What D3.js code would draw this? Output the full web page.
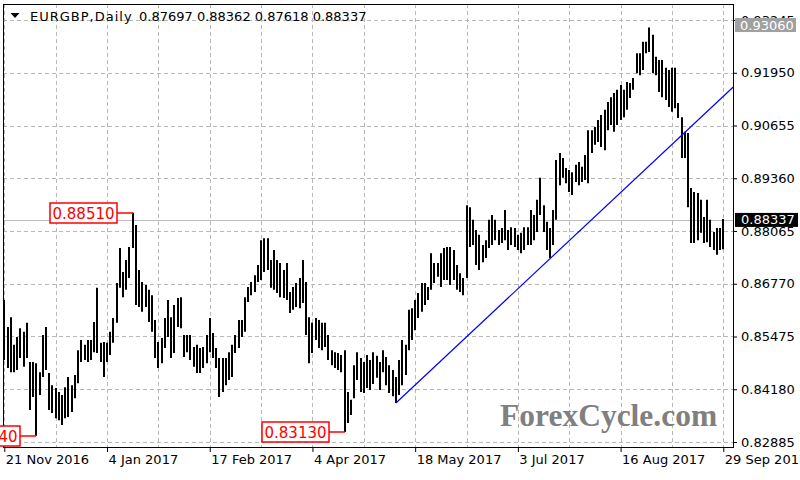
<!DOCTYPE html>
<meta charset="utf-8">
<title>EURGBP Daily</title>
<script src="https://d3js.org/d3.v7.min.js"></script>
<style>
  body { margin: 0; background: #fff; }
  text { font-family: "DejaVu Sans", sans-serif; }
</style>
<body>
<div id="chart"></div>
<script>
// daily highs and lows, one per trading day from 21 Nov 2016 to 29 Sep 2017
var highs = [
  0.8637,0.8571,0.8595,0.8527,0.8546,0.8568,0.8559,0.8581,0.8485,0.8485,
  0.8482,0.8460,0.8551,0.8571,0.8458,0.8428,0.8421,0.8411,0.8404,0.8423,
  0.8448,0.8428,0.8453,0.8514,0.8539,0.8527,0.8539,0.8539,0.8583,0.8667,
  0.8532,0.8534,0.8532,0.8559,0.8593,0.8679,0.8765,0.8706,0.8735,0.8767,
  0.8851,0.8821,0.8711,0.8681,0.8674,0.8662,0.8649,0.8588,0.8534,0.8544,
  0.8593,0.8637,0.8595,0.8625,0.8642,0.8644,0.8551,0.8551,0.8551,0.8522,
  0.8527,0.8519,0.8522,0.8551,0.8593,0.8556,0.8519,0.8495,0.8495,0.8495,
  0.8509,0.8527,0.8551,0.8588,0.8588,0.8644,0.8669,0.8681,0.8698,0.8723,
  0.8784,0.8789,0.8789,0.8735,0.8760,0.8735,0.8728,0.8711,0.8728,0.8657,
  0.8669,0.8679,0.8691,0.8735,0.8681,0.8595,0.8581,0.8593,0.8588,0.8581,
  0.8581,0.8551,0.8514,0.8509,0.8507,0.8502,0.8514,0.8411,0.8392,0.8477,
  0.8509,0.8495,0.8485,0.8502,0.8490,0.8509,0.8500,0.8485,0.8514,0.8497,
  0.8477,0.8465,0.8448,0.8490,0.8539,0.8527,0.8613,0.8617,0.8637,0.8654,
  0.8679,0.8679,0.8669,0.8752,0.8728,0.8728,0.8752,0.8765,0.8767,0.8767,
  0.8760,0.8723,0.8703,0.8691,0.8870,0.8865,0.8834,0.8809,0.8797,0.8772,
  0.8784,0.8834,0.8846,0.8834,0.8809,0.8814,0.8858,0.8809,0.8816,0.8814,
  0.8797,0.8802,0.8816,0.8816,0.8858,0.8846,0.8883,0.8937,0.8870,0.8829,
  0.8814,0.8858,0.8981,0.8998,0.8986,0.8961,0.8956,0.8951,0.8969,0.8976,
  0.8964,0.8993,0.9054,0.9054,0.9062,0.9079,0.9091,0.9104,0.9123,0.9135,
  0.9145,0.9153,0.9165,0.9153,0.9172,0.9170,0.9182,0.9243,0.9243,0.9271,
  0.9271,0.9306,0.9288,0.9234,0.9226,0.9226,0.9207,0.9202,0.9207,0.9207,
  0.9121,0.9086,0.9050,0.9047,0.8912,0.8902,0.8900,0.8883,0.8841,0.8883,
  0.8834,0.8804,0.8814,0.8814,0.88362
];
var lows = [
  0.8490,0.8470,0.8460,0.8460,0.8465,0.8495,0.8473,0.8495,0.8367,0.8399,
  0.8304,0.8404,0.8448,0.8465,0.8367,0.8360,0.8347,0.8342,0.8330,0.8347,
  0.8350,0.8362,0.8396,0.8433,0.8485,0.8490,0.8485,0.8490,0.8509,0.8507,
  0.8485,0.8448,0.8485,0.8502,0.8532,0.8581,0.8667,0.8644,0.8662,0.8691,
  0.8765,0.8625,0.8620,0.8608,0.8620,0.8583,0.8559,0.8495,0.8470,0.8482,
  0.8519,0.8546,0.8495,0.8507,0.8571,0.8568,0.8497,0.8509,0.8490,0.8473,
  0.8458,0.8458,0.8470,0.8482,0.8509,0.8495,0.8470,0.8399,0.8411,0.8428,
  0.8441,0.8448,0.8507,0.8519,0.8546,0.8559,0.8632,0.8649,0.8657,0.8681,
  0.8686,0.8706,0.8711,0.8667,0.8662,0.8654,0.8644,0.8642,0.8637,0.8605,
  0.8613,0.8620,0.8617,0.8630,0.8551,0.8482,0.8507,0.8539,0.8519,0.8514,
  0.8522,0.8490,0.8477,0.8470,0.8465,0.8460,0.8313,0.8335,0.8355,0.8396,
  0.8441,0.8411,0.8409,0.8421,0.8416,0.8431,0.8446,0.8416,0.8460,0.8428,
  0.8409,0.8401,0.8384,0.8404,0.8428,0.8453,0.8514,0.8539,0.8563,0.8593,
  0.8608,0.8625,0.8637,0.8662,0.8679,0.8694,0.8669,0.8686,0.8686,0.8674,
  0.8686,0.8662,0.8657,0.8649,0.8691,0.8767,0.8772,0.8723,0.8711,0.8730,
  0.8740,0.8765,0.8772,0.8784,0.8772,0.8777,0.8784,0.8760,0.8772,0.8767,
  0.8760,0.8752,0.8760,0.8772,0.8772,0.8784,0.8804,0.8846,0.8804,0.8760,
  0.8740,0.8772,0.8834,0.8919,0.8937,0.8924,0.8902,0.8895,0.8927,0.8919,
  0.8927,0.8932,0.8924,0.8998,0.9018,0.9025,0.9013,0.9005,0.9054,0.9067,
  0.9050,0.9067,0.9079,0.9086,0.9104,0.9133,0.9153,0.9194,0.9189,0.9202,
  0.9243,0.9246,0.9194,0.9189,0.9148,0.9135,0.9128,0.9111,0.9099,0.9108,
  0.9084,0.8986,0.8986,0.8865,0.8777,0.8777,0.8784,0.8802,0.8777,0.8779,
  0.8767,0.8760,0.8748,0.8760,0.87618
];

var dateLabels = ["21 Nov 2016", "4 Jan 2017", "17 Feb 2017", "4 Apr 2017",
                  "18 May 2017", "3 Jul 2017", "16 Aug 2017", "29 Sep 2017"];
var barsPerLabel = 32;
var priceTicks = [0.82885, 0.84180, 0.85475, 0.86770, 0.88065, 0.89360, 0.90655, 0.91950, 0.93245];
var lastBar = { open: 0.87697, high: 0.88362, low: 0.87618, close: 0.88337 };
var periodHigh = 0.93060;
// price labels drawn on the chart (bar index, price)
var markedPrices = [
  { bar: 10, price: 0.83040 },
  { bar: 40, price: 0.88510 },
  { bar: 106, price: 0.83130 }
];
// trend line through two lows
var trendAnchors = [{ bar: 122, price: 0.83843 }, { bar: 170, price: 0.87385 }];

var width = 800, height = 480;
var plot = { left: 3, top: 4, right: 733, bottom: 447 };

var svg = d3.select("#chart").append("svg")
  .attr("width", width)
  .attr("height", height)
  .style("display", "block");

svg.append("rect").attr("width", width).attr("height", height).attr("fill", "#fff");

var x = d3.scaleLinear().domain([0, highs.length - 1]).range([4.3, 723.3]);
var y = d3.scaleLinear()
  .domain([priceTicks[0], priceTicks[priceTicks.length - 1]])
  .range([442, 20]);

// grid
var grid = svg.append("g").attr("stroke", "#b8b8b8").attr("stroke-dasharray", "4,3");
grid.selectAll("line.v")
  .data(d3.range(0, highs.length, barsPerLabel / 2))
  .enter().append("line")
  .attr("x1", function(d) { return Math.round(x(d)) + 0.5; })
  .attr("x2", function(d) { return Math.round(x(d)) + 0.5; })
  .attr("y1", plot.top)
  .attr("y2", plot.bottom);
grid.selectAll("line.h")
  .data(priceTicks)
  .enter().append("line")
  .attr("x1", plot.left)
  .attr("x2", plot.right)
  .attr("y1", function(d) { return Math.round(y(d)) + 0.5; })
  .attr("y2", function(d) { return Math.round(y(d)) + 0.5; });

// current price line
svg.append("line")
  .attr("x1", plot.left).attr("x2", plot.right)
  .attr("y1", Math.round(y(lastBar.close)) + 0.5)
  .attr("y2", Math.round(y(lastBar.close)) + 0.5)
  .attr("stroke", "#c0c0c0");

// frame
svg.append("rect")
  .attr("x", plot.left + 0.5).attr("y", plot.top + 0.5)
  .attr("width", plot.right - plot.left).attr("height", plot.bottom - plot.top)
  .attr("fill", "none").attr("stroke", "#000");

// watermark
svg.append("text")
  .attr("x", 500).attr("y", 426)
  .style("font-family", "'Liberation Serif', serif")
  .style("font-weight", "bold")
  .style("font-size", "31.5px")
  .attr("fill", "#808080")
  .text("ForexCycle.com");

// bars
svg.append("g").selectAll("line")
  .data(highs)
  .enter().append("line")
  .attr("x1", function(d, i) { return Math.round(x(i)); })
  .attr("x2", function(d, i) { return Math.round(x(i)); })
  .attr("y1", function(d) { return y(d); })
  .attr("y2", function(d, i) { return y(lows[i]); })
  .attr("stroke", "#000")
  .attr("stroke-width", 2);

// trend line, extended to the right edge
var slope = (trendAnchors[1].price - trendAnchors[0].price) / (trendAnchors[1].bar - trendAnchors[0].bar);
var endBar = x.invert(plot.right);
svg.append("line")
  .attr("x1", x(trendAnchors[0].bar))
  .attr("y1", y(trendAnchors[0].price))
  .attr("x2", x(endBar))
  .attr("y2", y(trendAnchors[0].price + slope * (endBar - trendAnchors[0].bar)))
  .attr("stroke", "#0000ff")
  .attr("stroke-width", 1.2);

// marked prices
var marks = svg.append("g");
markedPrices.forEach(function(m) {
  var bx = Math.round(x(m.bar)), by = Math.round(y(m.price));
  marks.append("line")
    .attr("x1", bx - 16).attr("x2", bx)
    .attr("y1", by).attr("y2", by)
    .attr("stroke", "#ff0000").attr("stroke-width", 1.5);
  marks.append("rect")
    .attr("x", bx - 16 - 67).attr("y", by - 10)
    .attr("width", 67).attr("height", 20)
    .attr("fill", "#fff").attr("stroke", "#ff0000").attr("stroke-width", 1.5);
  marks.append("text")
    .attr("x", bx - 16 - 33.5).attr("y", by + 5.5)
    .attr("text-anchor", "middle")
    .style("font-size", "15px")
    .attr("fill", "#ff0000")
    .text(d3.format(".5f")(m.price));
});

// price axis
svg.append("g")
  .attr("transform", "translate(" + plot.right + ",0)")
  .call(d3.axisRight(y).tickValues(priceTicks).tickFormat(d3.format(".5f")).tickSize(4).tickPadding(4))
  .attr("font-size", 13)
  .attr("font-family", "DejaVu Sans")
  .call(function(g) { g.select(".domain").remove(); })
  .call(function(g) { g.selectAll("text").attr("fill", "#000"); });

// high label
svg.append("rect")
  .attr("x", 735).attr("y", y(periodHigh) - 9.5)
  .attr("width", 61).attr("height", 14)
  .attr("fill", "#a0a0a0");
svg.append("text")
  .attr("x", 740).attr("y", y(periodHigh) + 2)
  .style("font-size", "13px")
  .attr("fill", "#fff")
  .text(d3.format(".5f")(periodHigh));

// current price label
svg.append("rect")
  .attr("x", 735).attr("y", y(lastBar.close) - 7)
  .attr("width", 63).attr("height", 14)
  .attr("fill", "#000");
svg.append("text")
  .attr("x", 741).attr("y", y(lastBar.close) + 4.5)
  .style("font-size", "13px")
  .attr("fill", "#fff")
  .text(d3.format(".5f")(lastBar.close));

// date axis
var labelBars = dateLabels.map(function(d, i) { return i * barsPerLabel; });
svg.append("g")
  .attr("transform", "translate(0," + plot.bottom + ")")
  .call(d3.axisBottom(x).tickValues(labelBars)
    .tickFormat(function(d, i) { return dateLabels[i]; })
    .tickSize(5).tickPadding(3))
  .attr("font-size", 13)
  .attr("font-family", "DejaVu Sans")
  .call(function(g) { g.select(".domain").remove(); })
  .call(function(g) {
    g.selectAll("text").attr("text-anchor", "start").attr("dx", 1).attr("fill", "#000");
  });

// title
svg.append("path")
  .attr("d", "M10.5,13 L19.5,13 L15,18 Z")
  .attr("fill", "#000");
svg.append("text")
  .attr("x", 30).attr("y", 21)
  .style("font-size", "13px")
  .style("letter-spacing", "1px")
  .attr("fill", "#000")
  .text("EURGBP,Daily");
svg.append("text")
  .attr("x", 139).attr("y", 21)
  .style("font-size", "13px")
  .attr("fill", "#000")
  .text([lastBar.open, lastBar.high, lastBar.low, lastBar.close].map(d3.format(".5f")).join(" "));
</script>
</body>
